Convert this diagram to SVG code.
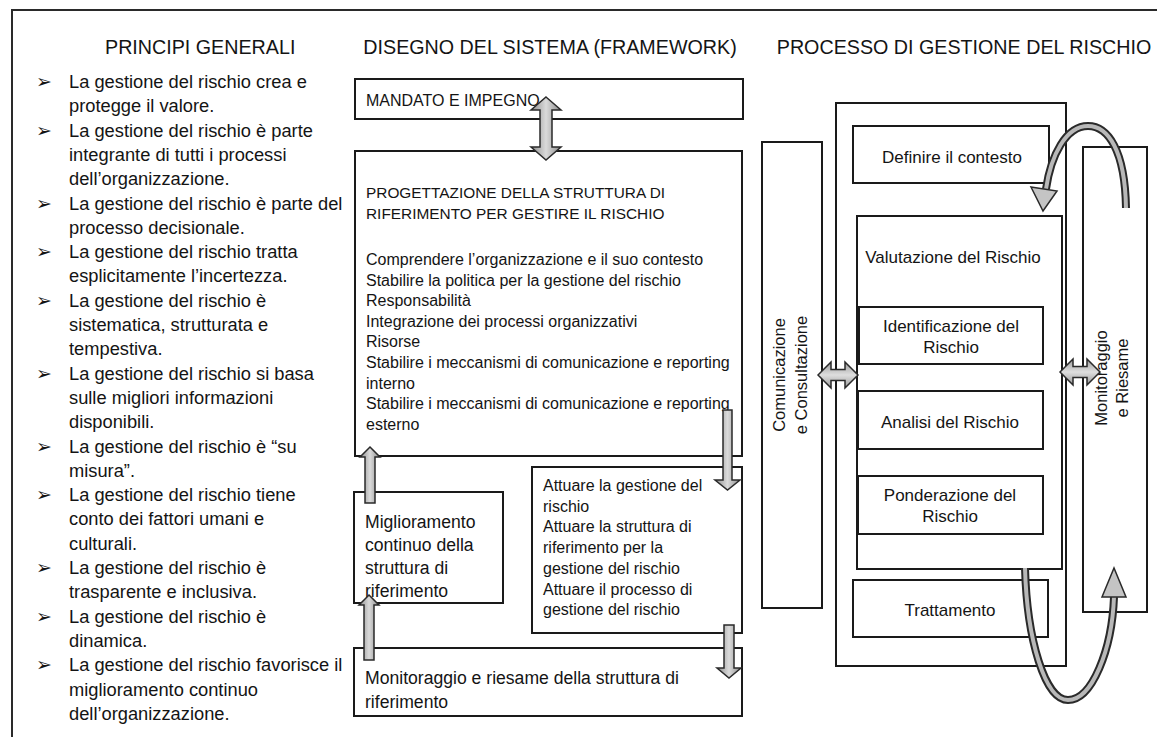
<svg xmlns="http://www.w3.org/2000/svg" width="1157" height="737" viewBox="0 0 1157 737">
<defs>
<style>
.t{font-family:"Liberation Sans",Arial,sans-serif;fill:#141414}
.h{font-size:19.7px}
.b{font-size:18.3px}
.m{font-size:16px}
.mc{font-size:15.4px}
.l{font-size:17.6px}
.r{font-size:17px}
.v{font-size:16.5px}
.c{text-anchor:middle}
.bx{fill:#fff;stroke:#1a1a1a;stroke-width:2}
.frame{fill:none;stroke:#2a2a2a;stroke-width:2}
.av{fill:url(#gv);stroke:#2a2a2a;stroke-width:1.5}
.ah{fill:url(#gh);stroke:#2a2a2a;stroke-width:1.5}
.co{fill:none;stroke:#2a2a2a;stroke-width:8;stroke-linecap:butt}
.ci{fill:none;stroke:#b8b8b8;stroke-width:4;stroke-linecap:butt}
.hd{fill:#c4c4c4;stroke:#2a2a2a;stroke-width:1.5}
.bul{font-family:"DejaVu Sans",sans-serif;font-size:19px;fill:#141414}
</style>
<linearGradient id="gv" x1="0" y1="0" x2="1" y2="0">
<stop offset="0" stop-color="#8c8c8c"/><stop offset="0.5" stop-color="#dadada"/><stop offset="1" stop-color="#8c8c8c"/>
</linearGradient>
<linearGradient id="gh" x1="0" y1="0" x2="0" y2="1">
<stop offset="0" stop-color="#9a9a9a"/><stop offset="0.5" stop-color="#dedede"/><stop offset="1" stop-color="#9a9a9a"/>
</linearGradient>
</defs>
<rect width="1157" height="737" fill="#fff"/>
<path class="frame" d="M12,737 V10 H1157"/>

<g id="headings">
<text class="t h" x="105" y="54">PRINCIPI GENERALI</text>
<text class="t h c" x="550" y="54">DISEGNO DEL SISTEMA (FRAMEWORK)</text>
<text class="t h c" x="964" y="54">PROCESSO DI GESTIONE DEL RISCHIO</text>
</g>

<g id="principi">
<g class="bul">
<text x="36" y="88">➢</text>
<text x="36" y="136.6">➢</text>
<text x="36" y="209.5">➢</text>
<text x="36" y="258.1">➢</text>
<text x="36" y="306.7">➢</text>
<text x="36" y="379.6">➢</text>
<text x="36" y="452.5">➢</text>
<text x="36" y="501.1">➢</text>
<text x="36" y="574">➢</text>
<text x="36" y="622.6">➢</text>
<text x="36" y="671.2">➢</text>
</g>
<g class="t b">
<text x="69" y="88">La gestione del rischio crea e</text>
<text x="69" y="112.3">protegge il valore.</text>
<text x="69" y="136.6">La gestione del rischio è parte</text>
<text x="69" y="160.9">integrante di tutti i processi</text>
<text x="69" y="185.2">dell’organizzazione.</text>
<text x="69" y="209.5">La gestione del rischio è parte del</text>
<text x="69" y="233.8">processo decisionale.</text>
<text x="69" y="258.1">La gestione del rischio tratta</text>
<text x="69" y="282.4">esplicitamente l’incertezza.</text>
<text x="69" y="306.7">La gestione del rischio è</text>
<text x="69" y="331">sistematica, strutturata e</text>
<text x="69" y="355.3">tempestiva.</text>
<text x="69" y="379.6">La gestione del rischio si basa</text>
<text x="69" y="403.9">sulle migliori informazioni</text>
<text x="69" y="428.2">disponibili.</text>
<text x="69" y="452.5">La gestione del rischio è “su</text>
<text x="69" y="476.8">misura”.</text>
<text x="69" y="501.1">La gestione del rischio tiene</text>
<text x="69" y="525.4">conto dei fattori umani e</text>
<text x="69" y="549.7">culturali.</text>
<text x="69" y="574">La gestione del rischio è</text>
<text x="69" y="598.3">trasparente e inclusiva.</text>
<text x="69" y="622.6">La gestione del rischio è</text>
<text x="69" y="646.9">dinamica.</text>
<text x="69" y="671.2">La gestione del rischio favorisce il</text>
<text x="69" y="695.5">miglioramento continuo</text>
<text x="69" y="719.8">dell’organizzazione.</text>
</g>
</g>

<g id="mandato">
<rect class="bx" x="355" y="79" width="388" height="40"/>
<text class="t" style="font-size:16px" x="366" y="105.5">MANDATO E IMPEGNO</text>
</g>

<g id="progettazione">
<rect class="bx" x="355" y="151" width="387" height="305"/>
<text class="t mc" x="366" y="198">PROGETTAZIONE DELLA STRUTTURA DI</text>
<text class="t mc" x="366" y="219">RIFERIMENTO PER GESTIRE IL RISCHIO</text>
<g class="t m">
<text x="366" y="265">Comprendere l’organizzazione e il suo contesto</text>
<text x="366" y="285.6">Stabilire la politica per la gestione del rischio</text>
<text x="366" y="306.2">Responsabilità</text>
<text x="366" y="326.8">Integrazione dei processi organizzativi</text>
<text x="366" y="347.4">Risorse</text>
<text x="366" y="368">Stabilire i meccanismi di comunicazione e reporting</text>
<text x="366" y="388.6">interno</text>
<text x="366" y="409.2">Stabilire i meccanismi di comunicazione e reporting</text>
<text x="366" y="429.8">esterno</text>
</g>
</g>

<g id="miglioramento">
<rect class="bx" x="354" y="492" width="149" height="111"/>
<g class="t l">
<text x="365" y="528">Miglioramento</text>
<text x="365" y="551">continuo della</text>
<text x="365" y="574">struttura di</text>
<text x="365" y="597">riferimento</text>
</g>
</g>

<g id="attuare">
<rect class="bx" x="532" y="467" width="210" height="166"/>
<g class="t m">
<text x="543" y="491">Attuare la gestione del</text>
<text x="543" y="511.7">rischio</text>
<text x="543" y="532.4">Attuare la struttura di</text>
<text x="543" y="553.1">riferimento per la</text>
<text x="543" y="573.8">gestione del rischio</text>
<text x="543" y="594.5">Attuare il processo di</text>
<text x="543" y="615.2">gestione del rischio</text>
</g>
</g>

<g id="monitoraggio-framework">
<rect class="bx" x="354" y="648" width="388" height="68"/>
<text class="t l" x="365" y="684">Monitoraggio e riesame della struttura di</text>
<text class="t l" x="365" y="708">riferimento</text>
</g>

<g id="comunicazione">
<rect class="bx" x="762" y="142" width="60" height="466"/>
<text class="t v c" transform="translate(784.5,375) rotate(-90)">Comunicazione</text>
<text class="t v c" transform="translate(806.5,375) rotate(-90)">e Consultazione</text>
</g>

<g id="processo">
<rect class="bx" x="836" y="103" width="230" height="563"/>
</g>

<g id="definire">
<rect class="bx" x="853" y="126" width="196" height="57"/>
<text class="t r c" x="952" y="163">Definire il contesto</text>
</g>

<g id="valutazione">
<rect class="bx" x="857" y="216" width="205" height="353"/>
<text class="t r c" x="953" y="263">Valutazione del Rischio</text>
</g>

<g id="identificazione">
<rect class="bx" x="859" y="307" width="184" height="57"/>
<text class="t r c" x="951" y="332">Identificazione del</text>
<text class="t r c" x="951" y="353">Rischio</text>
</g>

<g id="analisi">
<rect class="bx" x="858" y="391" width="185" height="58"/>
<text class="t r c" x="950" y="428">Analisi del Rischio</text>
</g>

<g id="ponderazione">
<rect class="bx" x="858" y="476" width="185" height="58"/>
<text class="t r c" x="950" y="501">Ponderazione del</text>
<text class="t r c" x="950" y="522">Rischio</text>
</g>

<g id="monitoraggio-riesame">
<rect class="bx" x="1083" y="147" width="64" height="465"/>
<text class="t v c" transform="translate(1106.5,378) rotate(-90)">Monitoraggio</text>
<text class="t v c" transform="translate(1127.5,378) rotate(-90)">e Riesame</text>
</g>

<g id="connectors">
<polygon class="av" points="546,97 561,110 552,110 552,147 561,147 546,160 531,147 540,147 540,110 531,110"/>
<polygon class="av" points="723,410 732,410 732,480 740,480 727.5,490 715,480 723,480"/>
<polygon class="av" points="724,625 734,625 734,668 741,668 729,678 717,668 724,668"/>
<polygon class="av" points="370,447 380,457 375,457 375,503 365,503 365,457 360,457"/>
<polygon class="av" points="369,595 379,605 374,605 374,660 364,660 364,605 359,605"/>
<polygon class="ah" points="818,375 831,362 831,369.5 845,369.5 845,362 858,375 845,388 845,380.5 831,380.5 831,388"/>
<polygon class="ah" points="1060,372 1073,359 1073,366.5 1087,366.5 1087,359 1100,372 1087,385 1087,377.5 1073,377.5 1073,385"/>
<path class="co" d="M1126,208 C1125,150 1108,126 1088,126 C1066,126 1051,155 1046,189"/>
<path class="ci" d="M1126,208 C1125,150 1108,126 1088,126 C1066,126 1051,155 1046,189"/>
<polygon class="hd" points="1031,187 1057,191 1043,211"/>
</g>

<g id="trattamento">
<rect class="bx" x="853" y="580" width="195" height="57"/>
<text class="t r c" x="950" y="616">Trattamento</text>
</g>

<g id="connectors-2">
<path class="co" d="M1025,568 C1027,640 1045,700 1068,700 C1092,700 1112,650 1114,597"/>
<path class="ci" d="M1025,568 C1027,640 1045,700 1068,700 C1092,700 1112,650 1114,597"/>
<polygon class="hd" points="1102,597 1126,597 1114,568"/>
</g>
</svg>
